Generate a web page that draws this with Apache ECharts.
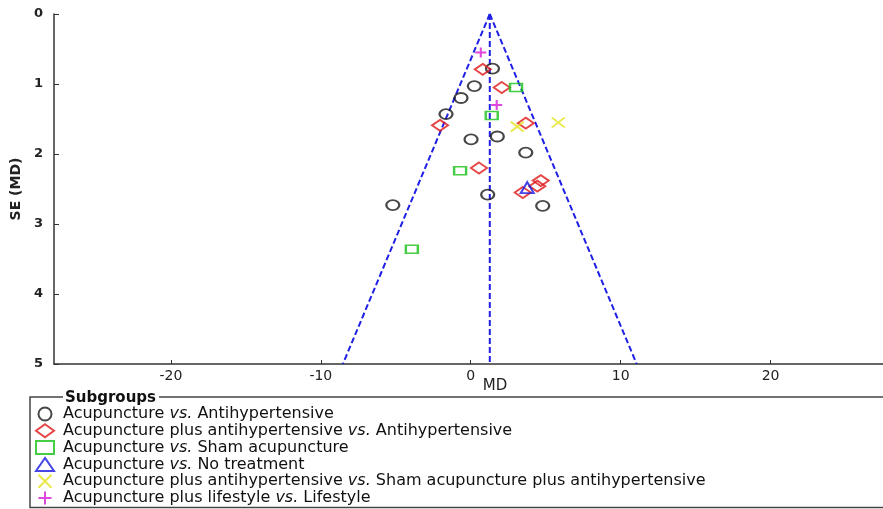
<!DOCTYPE html>
<html>
<head>
<meta charset="utf-8">
<script src="https://cdn.jsdelivr.net/npm/echarts@6/dist/echarts.min.js"></script>
<style>
html,body{margin:0;padding:0;background:#fff;}
#chart{width:883px;height:509px;}
</style>
</head>
<body>
<div id="chart"></div>
<script>
// ---- data (MD, SE) ----
const ACU_VS_ANTIHYP = [[1.45,0.78],[0.24,1.03],[-0.65,1.20],[-1.65,1.43],[0.02,1.79],[1.77,1.75],[3.67,1.98],[1.13,2.58],[-5.2,2.73],[4.8,2.74]];
const ACUPLUS_VS_ANTIHYP = [[0.8,0.79],[2.07,1.05],[-2.05,1.59],[3.67,1.56],[0.55,2.20],[3.47,2.55],[4.44,2.46],[4.67,2.38]];
const ACU_VS_SHAM = [[3.02,1.05],[1.4,1.45],[-0.71,2.24],[-3.93,3.36]];
const ACU_VS_NOTREAT = [[3.77,2.48]];
const ACUPLUS_VS_SHAMPLUS = [[3.1,1.61],[5.84,1.55]];
const ACULIFE_VS_LIFE = [[0.67,0.55],[1.73,1.30]];
const POOLED_MD = 1.27;
const SE_MAX = 5;
const Z = 1.96;
const XTICKS = [-20,-10,0,10,20];
const YTICKS = [0,1,2,3,4,5];
const NAMES = [
  'Acupuncture vs. Antihypertensive',
  'Acupuncture plus antihypertensive vs. Antihypertensive',
  'Acupuncture vs. Sham acupuncture',
  'Acupuncture vs. No treatment',
  'Acupuncture plus antihypertensive vs. Sham acupuncture plus antihypertensive',
  'Acupuncture plus lifestyle vs. Lifestyle'
];

const FONT = 'DejaVu Sans';
const chart = echarts.init(document.getElementById('chart'));

const funnelStyle = {color:'#1f1fe6', width:2, type:[6,3]};
function funnelLine(pts){
  return {type:'line', data:pts, symbol:'none', silent:true, lineStyle:funnelStyle, z:1, legendHoverLink:false};
}
function sc(name, data, symbol, size, color){
  return {type:'scatter', name:name, data:data, symbol:symbol, symbolSize:size,
    itemStyle:{color:'transparent', borderColor:color, borderWidth:2}, z:3};
}

chart.setOption({
  animation:false,
  grid:{left:54, top:14, right:0, bottom:145},
  xAxis:{type:'value', min:-27.8, max:27.5,
    axisLine:{show:true, onZero:false, lineStyle:{color:'#333', width:1.5}},
    axisTick:{show:true, inside:true, length:4, customValues:XTICKS, lineStyle:{color:'#333'}},
    axisLabel:{customValues:XTICKS, fontFamily:FONT, fontSize:14, color:'#222', margin:5},
    splitLine:{show:false}},
  yAxis:{type:'value', inverse:true, min:0, max:SE_MAX, interval:1,
    name:'SE (MD)', nameLocation:'middle', nameGap:25,
    nameTextStyle:{fontFamily:FONT, fontSize:14, fontWeight:'bold', color:'#222'},
    axisLine:{show:true, onZero:false, lineStyle:{color:'#333', width:1.5}},
    axisTick:{show:true, inside:true, length:5, lineStyle:{color:'#333'}},
    axisLabel:{fontFamily:FONT, fontSize:13, fontWeight:'bold', color:'#222', margin:11,
      formatter:v => YTICKS.includes(v) ? String(v) : ''},
    splitLine:{show:false}},
  legend:{
    orient:'vertical', left:35, top:406, height:120, padding:0,
    itemGap:0.8, itemWidth:18, itemHeight:13,
    data:NAMES, selectedMode:false,
    formatter:n => n.replace(' vs. ', ' {i|vs.} '),
    textStyle:{fontFamily:FONT, fontSize:16, color:'#111', padding:[0,0,0,4],
      rich:{i:{fontFamily:FONT, fontSize:16, fontStyle:'italic', color:'#111'}}}
  },
  graphic:[
    {type:'rect', shape:{x:30, y:397, width:870, height:110.5}, style:{fill:'none', stroke:'#444', lineWidth:1.5}, z:0},
    {type:'text', x:63, y:398, style:{text:'Subgroups', fontFamily:FONT, fontSize:15, fontWeight:'bold', fill:'#111',
      verticalAlign:'middle', backgroundColor:'#fff', padding:[0,3,0,2]}, z:5},
    {type:'text', x:495, y:386, style:{text:'MD', fontFamily:FONT, fontSize:15, fill:'#222', align:'center', verticalAlign:'middle'}}
  ],
  series:[
    funnelLine([[POOLED_MD,0],[POOLED_MD - Z*SE_MAX, SE_MAX]]),
    funnelLine([[POOLED_MD,0],[POOLED_MD + Z*SE_MAX, SE_MAX]]),
    funnelLine([[POOLED_MD,0],[POOLED_MD, SE_MAX]]),
    sc(NAMES[0], ACU_VS_ANTIHYP, 'circle', [13,10], '#1a1a1a'),
    sc(NAMES[1], ACUPLUS_VS_ANTIHYP, 'diamond', [16,11], '#e01818'),
    sc(NAMES[2], ACU_VS_SHAM, 'rect', [12,8], '#18c018'),
    sc(NAMES[3], ACU_VS_NOTREAT, 'triangle', [13,11], '#1818e0'),
    sc(NAMES[4], ACUPLUS_VS_SHAMPLUS, 'path://M0,0L10,10M10,0L0,10', [13,10], '#e3e31c'),
    sc(NAMES[5], ACULIFE_VS_LIFE, 'path://M5,0L5,10M0,5L10,5', [11,10], '#d619d6')
  ]
});
</script>
</body>
</html>
